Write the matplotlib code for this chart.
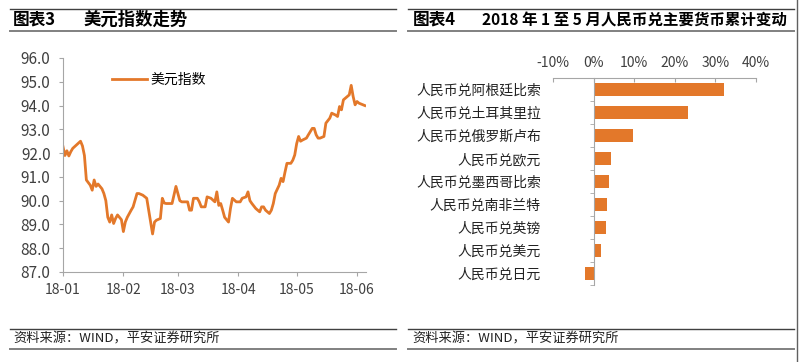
import matplotlib
matplotlib.use("Agg")
import matplotlib.pyplot as plt
import matplotlib.dates as mdates
from matplotlib.lines import Line2D
import pandas as pd
import numpy as np

plt.rcParams['font.family'] = ['Noto Sans CJK SC', 'DejaVu Sans']

# 美元指数 (days counted from 2018-01-01)
days = [0, 1, 2, 3, 4, 5, 7, 9, 10, 11, 12, 14, 15, 16, 17, 18, 20, 21, 22, 23,
        24, 25, 26, 27, 28, 30, 31, 32, 33, 35, 36, 38, 39, 41, 43, 44, 46, 47, 48, 50,
        51, 52, 53, 55, 56, 58, 60, 61, 64, 65, 66, 67, 69, 70, 71, 73, 74, 76, 78, 79,
        80, 81, 82, 83, 85, 86, 87, 89, 91, 92, 94, 95, 96, 97, 99, 101, 102, 103, 104, 106,
        107, 108, 109, 111, 112, 113, 114, 115, 117, 118, 119, 120, 121, 122, 123, 125, 126, 128, 129, 130,
        131, 132, 134, 135, 137, 138, 140, 141, 142, 143, 144, 145, 147, 148, 149, 150, 151, 152, 155]
dxy = [92.27, 91.90, 92.10, 91.88, 92.06, 92.20, 92.35, 92.50, 92.30, 91.90, 90.87, 90.65, 90.44, 90.87, 90.60, 90.70, 90.50, 90.30, 90.00, 89.30,
       89.10, 89.40, 89.04, 89.25, 89.40, 89.20, 88.70, 89.10, 89.30, 89.60, 89.74, 90.30, 90.30, 90.23, 90.10, 89.60, 88.60, 89.10, 89.18, 89.25,
       90.10, 89.90, 89.88, 89.88, 89.88, 90.60, 90.00, 89.95, 89.95, 89.60, 89.60, 90.10, 90.10, 89.95, 89.74, 89.74, 90.16, 90.10, 89.95, 90.37,
       89.80, 89.88, 89.60, 89.30, 89.10, 89.67, 90.10, 89.95, 89.95, 90.10, 90.16, 90.37, 90.00, 89.88, 89.67, 89.53, 89.74, 89.74, 89.60, 89.46,
       89.60, 89.88, 90.30, 90.65, 90.94, 90.80, 91.20, 91.57, 91.57, 91.70, 91.92, 92.40, 92.70, 92.50, 92.55, 92.63, 92.77, 93.04, 93.04, 92.77,
       92.63, 92.63, 92.70, 93.26, 93.47, 93.68, 93.60, 93.54, 93.96, 93.82, 94.24, 94.31, 94.45, 94.85, 94.38, 94.03, 94.17, 94.10, 94.00]

# 2018年1至5月人民币兑主要货币累计变动 (%)
currencies = ['人民币兑阿根廷比索', '人民币兑土耳其里拉', '人民币兑俄罗斯卢布', '人民币兑欧元',
              '人民币兑墨西哥比索', '人民币兑南非兰特', '人民币兑英镑', '人民币兑美元', '人民币兑日元']
changes = [32.2, 23.2, 9.8, 4.4, 3.7, 3.4, 3.1, 1.9, -2.0]

W, H = 799, 362
orange = '#E3782A'
grey = '#A6A6A6'
tick_c = '#404040'

fig = plt.figure(figsize=(W / 100, H / 100), dpi=100)


def hline(x0, x1, y, lw, color):
    fig.add_artist(Line2D([x0 / W, x1 / W], [1 - y / H, 1 - y / H], lw=lw, color=color,
                          transform=fig.transFigure))


# header / footer rules
for x0, x1 in [(10, 396), (408, 794)]:
    hline(x0, x1, 9, 1.0, '#404040')
    hline(x0, x1, 31, 1.4, '#808080')
    hline(x0, x1, 329, 1.0, '#404040')
    hline(x0, x1, 349, 1.4, '#808080')
fig.add_artist(Line2D([797 / W, 797 / W], [0, 1], lw=1.0, color='#606060', transform=fig.transFigure))

fig.text(13 / W, 1 - 20 / H, '图表3', fontsize=12, fontweight='bold', va='center')
fig.text(83 / W, 1 - 20 / H, '美元指数走势', fontsize=12.5, fontweight='bold', va='center')
fig.text(413 / W, 1 - 20 / H, '图表4', fontsize=12, fontweight='bold', va='center')
fig.text(482 / W, 1 - 20 / H, '2018 年 1 至 5 月人民币兑主要货币累计变动', fontsize=11.2,
         fontweight='bold', va='center')
for x in [13, 412]:
    fig.text(x / W, 1 - 339 / H, '资料来源：WIND，平安证券研究所', fontsize=9.5, style='italic',
             va='center', color='#222222')

# left: dollar index
ax1 = fig.add_axes([63 / W, 1 - 272 / H, 303 / W, 214 / H])
start = pd.Timestamp('2018-01-01')
dates = start + pd.to_timedelta(days, unit='D')
ax1.plot(dates, dxy, color=orange, lw=2.0, label='美元指数')
ax1.set_xlim(start, start + pd.Timedelta(days=155.6))
ax1.set_ylim(87, 96)
ax1.set_yticks(np.arange(87, 96.5, 1))
ax1.yaxis.set_major_formatter(matplotlib.ticker.FormatStrFormatter('%.1f'))
ax1.xaxis.set_major_locator(mdates.MonthLocator())
ax1.xaxis.set_major_formatter(mdates.DateFormatter('%y-%m'))
for s in ['top', 'right']:
    ax1.spines[s].set_visible(False)
for s in ['left', 'bottom']:
    ax1.spines[s].set_color(grey)
ax1.tick_params(axis='y', length=3, color=grey, labelcolor=tick_c, labelsize=11, pad=6)
ax1.tick_params(axis='x', length=3, color=grey, labelcolor=tick_c, labelsize=10, pad=5)
ax1.legend(frameon=False, loc='center left', bbox_to_anchor=((112 - 63) / 303, (272 - 80) / 214),
           borderaxespad=0, borderpad=0, handlelength=2.5, handletextpad=0.3, fontsize=10)

# right: bar chart
ax2 = fig.add_axes([553 / W, 1 - 285 / H, 203 / W, 207 / H])
ypos = np.arange(len(currencies))
ax2.barh(ypos, changes, height=0.55, color=orange)
ax2.set_xlim(-10, 40)
ax2.set_ylim(len(currencies) - 0.5, -0.5)
ax2.xaxis.tick_top()
ax2.set_xticks(np.arange(-10, 41, 10))
ax2.set_xticklabels([f'{v}%' for v in range(-10, 41, 10)])
ax2.tick_params(axis='x', direction='in', length=3, color=grey, labelcolor=tick_c, labelsize=10, pad=6)
ax2.set_yticks(ypos)
ax2.set_yticklabels(currencies)
ax2.set_yticks(np.arange(-0.5, len(currencies), 1), minor=True)
ax2.tick_params(axis='y', which='major', length=0, labelsize=10, labelcolor='#222222', pad=38)
ax2.tick_params(axis='y', which='minor', length=3, color=grey)
ax2.spines['left'].set_position(('data', 0))
ax2.spines['left'].set_color(grey)
ax2.spines['top'].set_color(grey)
for s in ['right', 'bottom']:
    ax2.spines[s].set_visible(False)

fig.savefig('out.png', dpi=100, facecolor='white')
